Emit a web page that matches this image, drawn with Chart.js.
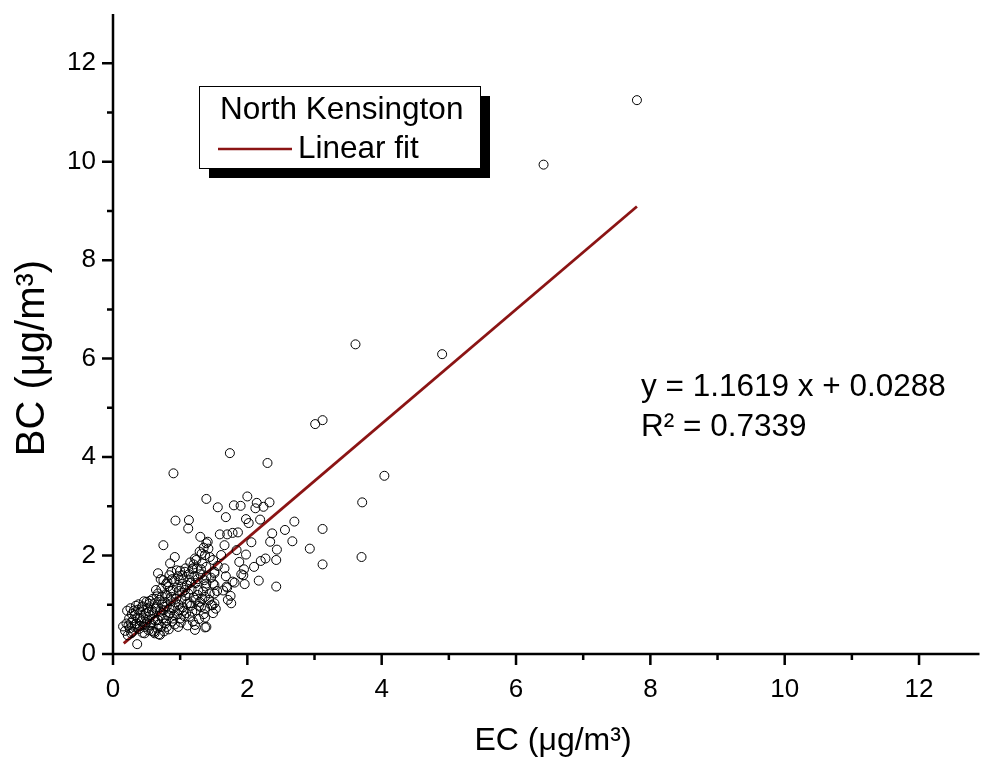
<!DOCTYPE html>
<html>
<head>
<meta charset="utf-8">
<script src="https://cdn.jsdelivr.net/npm/chart.js@4.4.1/dist/chart.umd.min.js"></script>
<style>
  body { margin: 0; background: #fff; }
  canvas { display: block; }
</style>
</head>
<body>
<canvas id="scatterCanvas" width="985" height="765"></canvas>
<script>
// EC (x) and BC (y) in µg/m3, North Kensington
const ecValues = [
  0.15, 0.18, 0.20, 0.22, 0.23, 0.24, 0.25, 0.26, 0.27, 0.28,
  0.29, 0.30, 0.31, 0.32, 0.33, 0.34, 0.35, 0.36, 0.36, 0.38,
  0.39, 0.40, 0.41, 0.42, 0.43, 0.44, 0.45, 0.46, 0.47, 0.48,
  0.49, 0.50, 0.51, 0.52, 0.53, 0.54, 0.55, 0.56, 0.57, 0.58,
  0.59, 0.60, 0.61, 0.62, 0.62, 0.63, 0.64, 0.65, 0.66, 0.67,
  0.67, 0.67, 0.68, 0.69, 0.70, 0.70, 0.71, 0.72, 0.72, 0.73,
  0.74, 0.75, 0.75, 0.75, 0.76, 0.77, 0.78, 0.78, 0.79, 0.80,
  0.80, 0.81, 0.82, 0.82, 0.83, 0.84, 0.85, 0.85, 0.86, 0.87,
  0.87, 0.88, 0.89, 0.89, 0.90, 0.90, 0.91, 0.92, 0.92, 0.93,
  0.94, 0.95, 0.96, 0.97, 0.97, 0.98, 0.99, 0.99, 1.00, 1.01,
  1.02, 1.02, 1.03, 1.04, 1.05, 1.06, 1.07, 1.08, 1.08, 1.09,
  1.10, 1.11, 1.12, 1.12, 1.13, 1.14, 1.14, 1.14, 1.15, 1.16,
  1.17, 1.18, 1.19, 1.19, 1.20, 1.21, 1.22, 1.22, 1.22, 1.23,
  1.24, 1.24, 1.25, 1.26, 1.27, 1.28, 1.29, 1.29, 1.30, 1.30,
  1.31, 1.32, 1.33, 1.34, 1.35, 1.36, 1.37, 1.37, 1.37, 1.37,
  1.37, 1.38, 1.39, 1.39, 1.39, 1.39, 1.39, 1.39, 1.41, 1.42,
  1.44, 1.44, 1.46, 1.48, 1.49, 1.49, 1.49, 1.51, 1.51, 1.51,
  1.51, 1.51, 1.56, 1.56, 1.59, 1.61, 1.64, 1.66, 1.66, 1.68,
  1.68, 1.69, 1.70, 1.70, 1.71, 1.74, 1.75, 1.76, 1.78, 1.78,
  1.80, 1.81, 1.84, 1.86, 1.88, 1.90, 1.91, 1.94, 1.95, 1.96,
  1.98, 1.98, 2.00, 2.02, 2.06, 2.10, 2.12, 2.14, 2.17, 2.19,
  2.20, 2.24, 2.27, 2.30, 2.33, 2.34, 2.37, 2.43, 2.43, 2.44,
  2.56, 2.67, 2.70, 2.93, 3.01, 3.12, 3.12, 3.12, 3.61, 3.70,
  3.71, 4.04, 4.90, 6.41, 7.80,
  0.21, 0.27, 0.33, 0.37, 0.40, 0.44, 0.47, 0.50, 0.53, 0.55,
  0.58, 0.60, 0.63, 0.65, 0.68, 0.71, 0.73, 0.76, 0.79, 0.81,
  0.84, 0.86, 0.88, 0.91, 0.93, 0.95, 0.98, 1.00, 1.03, 1.05,
  1.07, 1.10, 1.13, 1.16, 1.18, 1.20, 1.23, 1.26, 1.28, 1.31,
  1.33, 1.35, 1.43, 1.46, 1.53, 1.55
];
const bcValues = [
  0.56, 0.47, 0.62, 0.38, 0.58, 0.72, 0.52, 0.93, 0.64, 0.81,
  0.45, 0.69, 0.88, 0.55, 0.79, 0.98, 0.62, 0.20, 0.74, 1.01,
  0.51, 0.57, 0.86, 0.66, 0.95, 0.43, 0.74, 1.07, 0.42, 0.61,
  0.83, 1.06, 0.70, 0.93, 0.48, 1.02, 0.79, 0.58, 0.62, 0.89,
  1.12, 0.83, 0.45, 1.03, 0.42, 0.68, 1.30, 0.95, 0.52, 1.64,
  1.23, 0.69, 0.40, 1.10, 0.39, 0.86, 1.52, 0.55, 1.33, 1.01,
  0.73, 1.50, 0.89, 2.21, 0.46, 1.06, 1.21, 0.62, 1.42, 0.55,
  0.97, 1.18, 1.37, 0.78, 0.50, 1.60, 0.83, 1.84, 1.07, 1.67,
  1.16, 0.66, 0.72, 1.29, 3.67, 0.93, 1.48, 1.97, 0.60, 2.71,
  1.12, 1.35, 0.81, 0.55, 1.58, 1.00, 0.89, 1.50, 1.69, 0.64,
  1.10, 1.37, 1.25, 0.95, 1.52, 0.77, 1.67, 1.74, 1.18, 0.83,
  1.40, 0.58, 2.55, 1.23, 2.72, 1.03, 1.50, 0.76, 1.86, 0.98,
  1.31, 1.72, 1.74, 0.66, 1.15, 1.58, 1.94, 0.59, 0.49, 1.44,
  0.89, 1.91, 1.74, 1.20, 1.30, 0.71, 1.06, 2.08, 2.38, 1.62,
  0.95, 2.04, 1.84, 1.27, 0.81, 1.50, 1.16, 0.93, 2.01, 0.54,
  0.74, 1.37, 3.15, 1.77, 2.25, 1.57, 0.55, 1.43, 2.28, 2.14,
  1.23, 1.97, 0.99, 0.99, 1.43, 1.91, 0.83, 1.64, 1.03, 1.40,
  1.23, 1.67, 2.98, 1.79, 2.43, 2.01, 1.29, 2.21, 1.74, 2.78,
  1.58, 1.37, 1.35, 2.43, 1.10, 4.08, 1.18, 1.03, 2.46, 1.47,
  3.02, 1.45, 2.11, 2.47, 1.87, 3.01, 1.62, 1.60, 1.72, 1.42,
  2.74, 2.02, 3.20, 2.66, 2.27, 1.77, 2.96, 3.07, 1.49, 2.73,
  1.89, 2.99, 1.94, 3.88, 3.08, 2.28, 2.45, 1.91, 1.37, 2.12,
  2.52, 2.29, 2.69, 2.14, 4.67, 4.75, 2.54, 1.82, 6.29, 1.97,
  3.08, 3.62, 6.09, 9.94, 11.25,
  0.88, 0.42, 0.60, 0.90, 0.72, 0.97, 0.55, 0.64, 0.86, 1.08,
  0.47, 0.70, 0.92, 1.17, 0.60, 0.78, 1.17, 0.96, 0.68, 1.46,
  0.92, 1.28, 1.52, 0.79, 1.05, 1.70, 1.28, 0.72, 1.60, 0.88,
  1.30, 1.02, 1.62, 1.45, 0.86, 1.82, 1.10, 1.52, 0.98, 1.72,
  1.12, 2.16, 1.10, 1.55, 0.92, 1.28
];

// linear fit end points (y = 1.1619 x + 0.0288)
const fitX = [0.16, 7.80];
const fitY = [0.215, 9.09];

const xMax = 12.9;
const yMax = 13;
const tickLabels = ['0', '2', '4', '6', '8', '10', '12'];
const fitColor = '#8b1414';
const fontFamily = '"Liberation Sans", Arial, sans-serif';

// axis lines, ticks, labels, titles, legend box and fit equation (Origin style)
const originStyle = {
  id: 'originStyle',
  afterDraw(chart) {
    const { ctx } = chart;
    const xs = chart.scales.x;
    const ys = chart.scales.y;
    const x0 = xs.getPixelForValue(0);
    const y0 = ys.getPixelForValue(0);
    ctx.save();
    ctx.strokeStyle = '#000';
    ctx.lineWidth = 2.5;
    ctx.beginPath();
    ctx.moveTo(x0, ys.getPixelForValue(yMax));
    ctx.lineTo(x0, y0);
    ctx.lineTo(xs.getPixelForValue(xMax), y0);
    for (let v = 0; v <= 12; v++) {
      const len = v % 2 === 0 ? 11 : 6;
      const px = xs.getPixelForValue(v);
      ctx.moveTo(px, y0);
      ctx.lineTo(px, y0 + len);
      const py = ys.getPixelForValue(v);
      ctx.moveTo(x0, py);
      ctx.lineTo(x0 - len, py);
    }
    ctx.stroke();

    // tick labels
    ctx.fillStyle = '#000';
    ctx.font = '26px ' + fontFamily;
    ctx.textBaseline = 'middle';
    tickLabels.forEach((t, i) => {
      ctx.textAlign = 'center';
      ctx.fillText(t, xs.getPixelForValue(i * 2), y0 + 36);
      ctx.textAlign = 'right';
      ctx.fillText(t, x0 - 17, ys.getPixelForValue(i * 2));
    });

    // axis titles
    ctx.textAlign = 'center';
    ctx.font = '32px ' + fontFamily;
    ctx.fillText('EC (μg/m³)', 553, 741);
    ctx.save();
    ctx.translate(33, 358);
    ctx.rotate(-Math.PI / 2);
    ctx.font = '40px ' + fontFamily;
    ctx.fillText('BC (μg/m³)', 0, 0);
    ctx.restore();

    // legend box with shadow
    ctx.fillStyle = '#000';
    ctx.fillRect(209, 96, 281, 82);
    ctx.fillStyle = '#fff';
    ctx.fillRect(199, 86, 281, 82);
    ctx.lineWidth = 1;
    ctx.strokeStyle = '#000';
    ctx.strokeRect(199.5, 86.5, 281, 82);
    ctx.fillStyle = '#000';
    ctx.textAlign = 'left';
    ctx.font = '31.5px ' + fontFamily;
    ctx.fillText('North Kensington', 220, 110);
    ctx.fillText('Linear fit', 298, 149);
    ctx.strokeStyle = fitColor;
    ctx.lineWidth = 2.5;
    ctx.beginPath();
    ctx.moveTo(218, 149);
    ctx.lineTo(292, 149);
    ctx.stroke();

    // fit equation
    ctx.fillStyle = '#000';
    ctx.fillText('y = 1.1619 x + 0.0288', 641, 387);
    ctx.fillText('R² = 0.7339', 641, 427);
    ctx.restore();
  }
};

const ctx = document.getElementById('scatterCanvas').getContext('2d');
new Chart(ctx, {
  type: 'scatter',
  data: {
    datasets: [
      {
        label: 'North Kensington',
        data: ecValues.map((x, i) => ({ x: x, y: bcValues[i] })),
        pointStyle: 'circle',
        pointRadius: 4.5,
        borderColor: '#000',
        borderWidth: 1,
        backgroundColor: 'rgba(0,0,0,0)'
      },
      {
        label: 'Linear fit',
        type: 'line',
        data: fitX.map((x, i) => ({ x: x, y: fitY[i] })),
        borderColor: fitColor,
        borderWidth: 2.8,
        pointRadius: 0,
        showLine: true,
        fill: false
      }
    ]
  },
  options: {
    responsive: false,
    animation: false,
    layout: { padding: { top: 14, right: 3, left: 0, bottom: 0 } },
    plugins: { legend: { display: false }, tooltip: { enabled: false } },
    scales: {
      x: {
        type: 'linear',
        min: 0,
        max: xMax,
        afterFit: (scale) => { scale.height = 111; },
        grid: { display: false, drawTicks: false },
        border: { display: false },
        ticks: { display: false, stepSize: 1 }
      },
      y: {
        type: 'linear',
        min: 0,
        max: yMax,
        afterFit: (scale) => { scale.width = 113; },
        grid: { display: false, drawTicks: false },
        border: { display: false },
        ticks: { display: false, stepSize: 1 }
      }
    }
  },
  plugins: [originStyle]
});
</script>
</body>
</html>
